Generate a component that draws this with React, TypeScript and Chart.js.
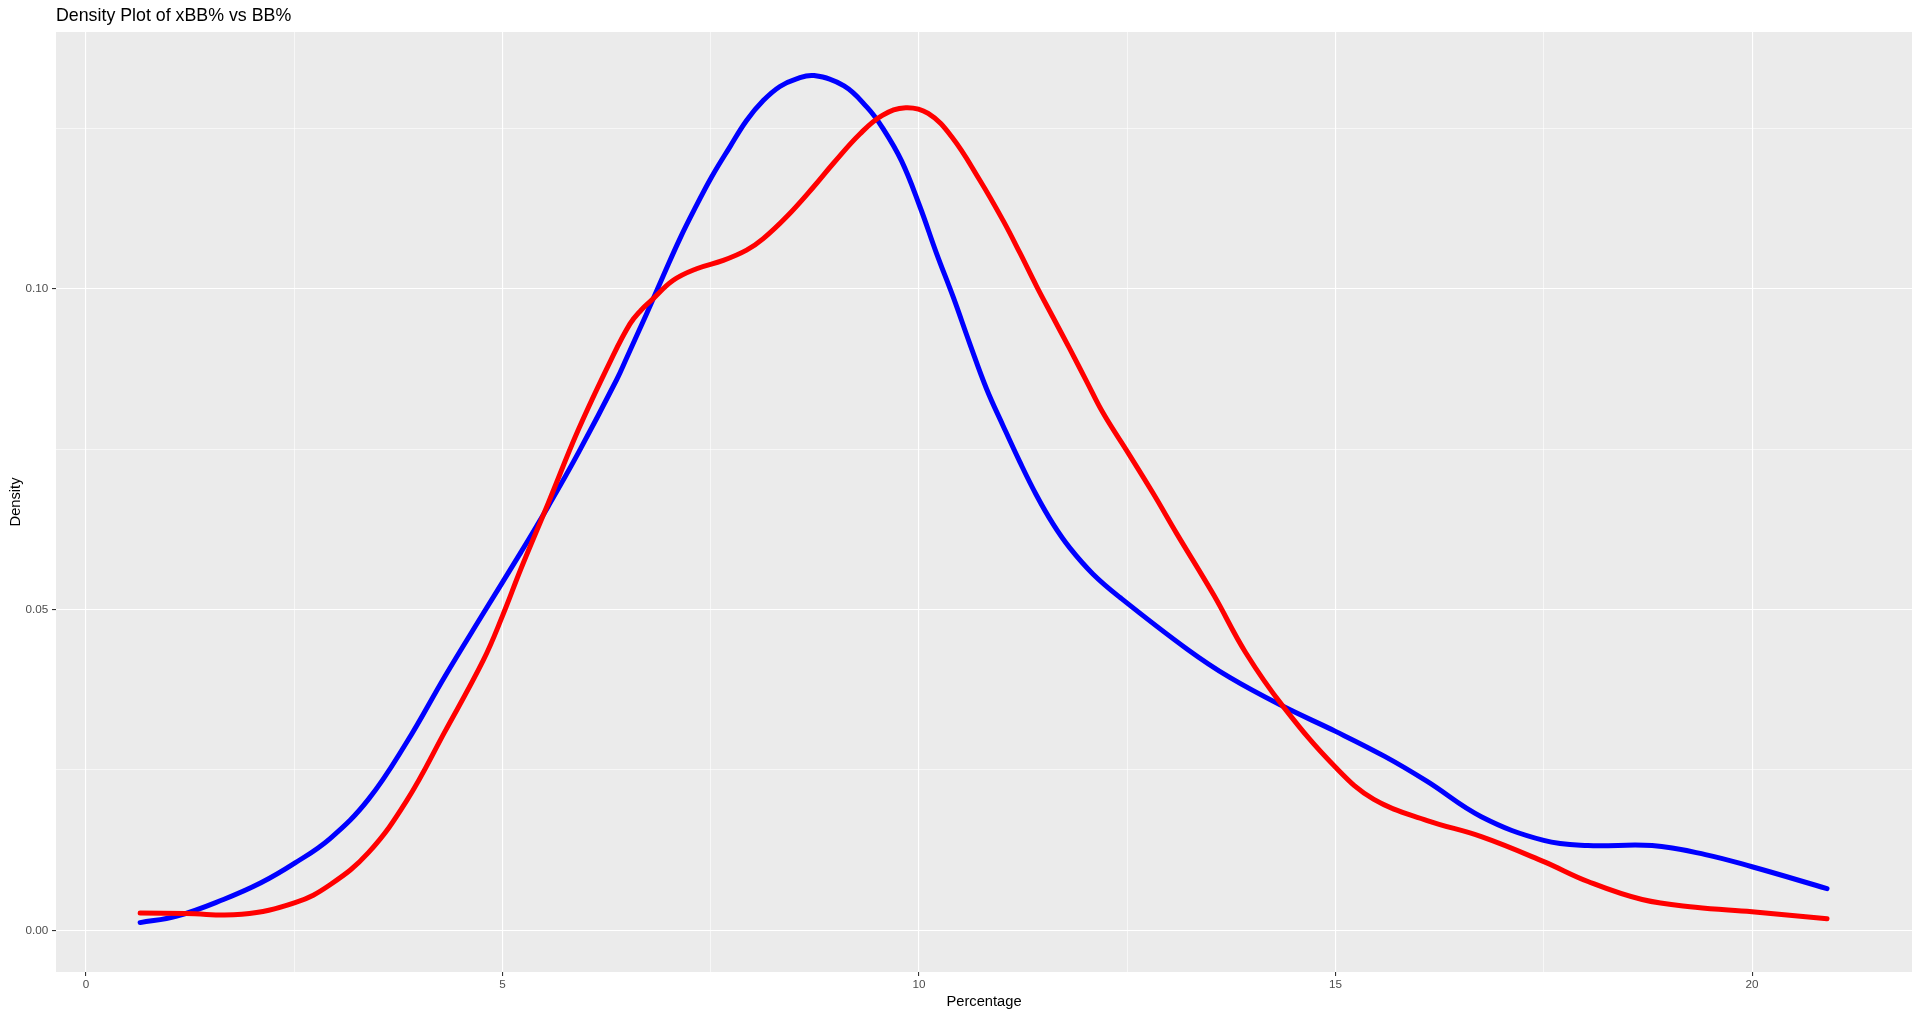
import React, { useEffect, useRef } from "react";
import { Chart, registerables } from "chart.js";

Chart.register(...registerables);

// Percentage values (x) with their density (y)
const redX = [
	0.65, 1.2, 1.87, 2.51, 2.93, 3.39, 3.85, 4.31, 4.77, 5.0, 5.22, 5.55, 5.91, 6.31, 6.53, 6.66, 6.79, 7.05,
	7.33, 7.65, 7.93, 8.13, 8.41, 8.73, 8.97, 9.29, 9.56, 9.84, 10.11, 10.39, 10.73, 11.01, 11.21, 11.41,
	11.61, 11.81, 12.01, 12.21, 12.51, 12.81, 13.09, 13.54, 13.92, 14.37, 15.0, 15.46, 16.1, 16.75, 17.5,
	18.03, 18.68, 19.32, 20.0, 20.9,
];
const redY = [
	0.0027, 0.0026, 0.0025, 0.0043, 0.0071, 0.0121, 0.0202, 0.031, 0.0421, 0.049, 0.0563, 0.0666, 0.078,
	0.0891, 0.0945, 0.0966, 0.0982, 0.1013, 0.1031, 0.1044, 0.106, 0.1078, 0.1112, 0.1158, 0.1195, 0.1241,
	0.127, 0.1282, 0.1273, 0.1237, 0.1169, 0.1106, 0.1056, 0.1004, 0.0955, 0.0906, 0.0856, 0.0806, 0.0744,
	0.0681, 0.0619, 0.0522, 0.0433, 0.0349, 0.0254, 0.0204, 0.0171, 0.0146, 0.0107, 0.0076, 0.0048, 0.0036,
	0.0029, 0.0018,
];

const blueX = [
	0.65, 1.09, 1.65, 2.1, 2.51, 2.93, 3.39, 3.85, 4.31, 4.77, 5.22, 5.55, 5.91, 6.37, 6.49, 6.73, 6.93, 7.13,
	7.33, 7.51, 7.73, 7.93, 8.13, 8.33, 8.53, 8.74, 9.1, 9.38, 9.56, 9.79, 10.01, 10.21, 10.41, 10.61, 10.81,
	11.01, 11.21, 11.41, 11.61, 11.81, 12.09, 12.41, 13.22, 13.73, 14.37, 15.0, 15.59, 16.1, 16.75, 17.5,
	18.03, 18.8, 19.44, 20.0, 20.9,
];
const blueY = [
	0.0012, 0.0022, 0.0048, 0.0074, 0.0105, 0.0143, 0.0204, 0.0293, 0.0396, 0.0494, 0.0589, 0.0661, 0.0744,
	0.0858, 0.0892, 0.0961, 0.102, 0.1078, 0.113, 0.1174, 0.1221, 0.1262, 0.1293, 0.1315, 0.1327, 0.1332,
	0.1316, 0.1282, 0.1251, 0.1199, 0.1128, 0.1055, 0.0987, 0.0914, 0.0844, 0.0786, 0.073, 0.0678, 0.0633,
	0.0596, 0.0555, 0.0519, 0.0438, 0.0394, 0.0349, 0.031, 0.0271, 0.0232, 0.0177, 0.014, 0.0132, 0.0132,
	0.0118, 0.0099, 0.0065,
];

const xTicks = [0, 5, 10, 15, 20];
const xMinor = [2.5, 7.5, 12.5, 17.5];
const yTicks = [0, 0.05, 0.1];
const yMinor = [0.025, 0.075, 0.125];

const toPoints = (xs: number[], ys: number[]) => xs.map((x, i) => ({ x, y: ys[i] }));
const gridTicks = (major: number[], minor: number[]) =>
	[...major.map((v) => ({ value: v, major: true })), ...minor.map((v) => ({ value: v, major: false }))];

const panelBackground = {
	id: "panelBackground",
	beforeDraw(chart: Chart) {
		const { ctx, chartArea } = chart;
		ctx.save();
		ctx.fillStyle = "#EBEBEB";
		ctx.fillRect(chartArea.left, chartArea.top, chartArea.right - chartArea.left, chartArea.bottom - chartArea.top);
		ctx.restore();
	},
};

const isMajor = (ctx: any) => ctx.tick && ctx.tick.major;

const App: React.FC = () => {
	const chartRef = useRef<HTMLCanvasElement>(null);
	const chartInstance = useRef<Chart | null>(null);

	useEffect(() => {
		if (!chartRef.current) return;
		if (chartInstance.current) chartInstance.current.destroy();

		const family = "'Liberation Sans', Arial, sans-serif";
		const tickFont = { family, size: 11.7 };
		const titleFont = { family, size: 14.7 };

		const line = (label: string, color: string, xs: number[], ys: number[]) => ({
			label,
			data: toPoints(xs, ys),
			showLine: true,
			borderColor: color,
			backgroundColor: color,
			borderWidth: 5,
			borderCapStyle: "round" as const,
			borderJoinStyle: "round" as const,
			pointRadius: 0,
			tension: 0.4,
		});

		chartInstance.current = new Chart(chartRef.current, {
			type: "scatter",
			data: {
				datasets: [line("xBB%", "#FF0000", redX, redY), line("BB%", "#0000FF", blueX, blueY)],
			},
			options: {
				animation: false,
				responsive: true,
				maintainAspectRatio: false,
				devicePixelRatio: 1,
				layout: { padding: { top: 0, right: 8, bottom: 0, left: 0 } },
				plugins: {
					legend: { display: false },
					tooltip: { enabled: false },
					title: {
						display: true,
						text: "Density Plot of xBB% vs BB%",
						align: "start",
						fullSize: false,
						color: "#000000",
						font: { family, size: 17.8, weight: "normal" },
						padding: { top: 5.3, bottom: 5.3 },
					},
				},
				scales: {
					x: {
						type: "linear",
						min: -0.36,
						max: 21.92,
						afterBuildTicks: (s: any) => {
							s.ticks = gridTicks(xTicks, xMinor);
						},
						afterFit: (s: any) => {
							s.height = 45;
						},
						grid: {
							color: "#FFFFFF",
							lineWidth: (ctx: any) => (isMajor(ctx) ? 1.1 : 0.6),
							tickColor: (ctx: any) => (isMajor(ctx) ? "#333333" : "rgba(0,0,0,0)"),
							tickLength: 4,
							drawTicks: true,
						},
						border: { display: false },
						ticks: {
							color: "#4D4D4D",
							font: tickFont,
							padding: 2,
							maxRotation: 0,
							autoSkip: false,
							callback: (v: any) => (xTicks.includes(Number(v)) ? String(v) : ""),
						},
						title: {
							display: true,
							text: "Percentage",
							color: "#000000",
							font: titleFont,
							padding: { top: 0, bottom: 6.4 },
						},
					},
					y: {
						type: "linear",
						min: -0.0065,
						max: 0.14,
						afterBuildTicks: (s: any) => {
							s.ticks = gridTicks(yTicks, yMinor);
						},
						afterFit: (s: any) => {
							s.width = 56;
						},
						grid: {
							color: "#FFFFFF",
							lineWidth: (ctx: any) => (isMajor(ctx) ? 1.1 : 0.6),
							tickColor: (ctx: any) => (isMajor(ctx) ? "#333333" : "rgba(0,0,0,0)"),
							tickLength: 4,
							drawTicks: true,
						},
						border: { display: false },
						ticks: {
							color: "#4D4D4D",
							font: tickFont,
							padding: 3.7,
							autoSkip: false,
							callback: (v: any) => (yTicks.includes(Number(v)) ? Number(v).toFixed(2) : ""),
						},
						title: {
							display: true,
							text: "Density",
							color: "#000000",
							font: titleFont,
							padding: { top: 7.2, bottom: 0 },
						},
					},
				},
			},
			plugins: [panelBackground],
		});

		return () => {
			if (chartInstance.current) {
				chartInstance.current.destroy();
				chartInstance.current = null;
			}
		};
	}, []);

	return (
		<div style={{ position: "fixed", left: 0, top: 0, width: "1920px", height: "1017px", background: "#FFFFFF" }}>
			<canvas ref={chartRef}></canvas>
		</div>
	);
};

export default App;
